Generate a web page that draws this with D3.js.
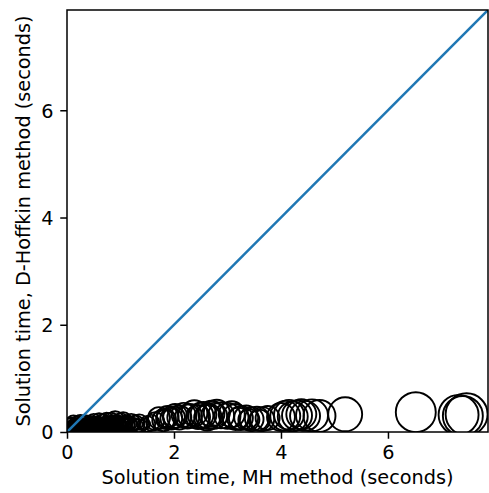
<!DOCTYPE html>
<html><head><meta charset="utf-8">
<script src="https://cdn.jsdelivr.net/npm/d3@7"></script>
<style>body{margin:0;background:#fff}svg{display:block}text{font-family:"DejaVu Sans",sans-serif;fill:#000}</style>
</head><body><div id="c"></div>
<script>
// MH method solution times (seconds)
const mhTimes = [0.02,0.04,0.06,0.08,0.10,0.12,0.14,0.16,0.18,0.20,0.23,0.25,0.28,0.30,0.33,0.36,0.38,0.41,0.44,0.47,0.50,0.53,0.56,0.60,0.63,0.66,0.70,0.74,0.78,0.82,0.86,0.90,0.95,1.00,1.05,1.12,1.20,1.28,1.35,
 0.03,0.05,0.07,0.09,0.11,0.13,0.15,0.17,0.19,0.21,0.22,0.24,0.26,0.27,0.29,0.31,0.32,0.34,0.35,0.37,0.39,0.40,0.42,0.43,0.45,0.46,0.48,0.49,0.51,0.52,0.54,0.55,0.57,0.58,0.59,0.61,0.62,0.64,0.65,0.67,0.68,0.69,0.71,0.72,0.73,0.75,0.76,0.77,0.79,0.80,0.81,0.83,0.84,0.85,0.87,0.88,0.89,0.91,0.92,0.93,0.96,0.98,1.02,1.04,1.08,1.10,1.15,1.18,1.23,1.25,1.31,1.40,1.45,
 1.50,1.58,1.65,1.72,1.80,1.88,1.95,2.02,2.10,2.18,2.30,2.38,2.45,2.55,2.62,2.70,2.75,2.80,2.88,3.00,3.08,3.15,3.25,3.35,3.45,3.55,3.65,3.75,
 1.85,2.00,2.25,2.50,2.65,3.20,3.40,3.60,
 4.00,4.08,4.15,4.22,4.30,4.38,4.45,4.58,4.72,5.20,6.52,7.32,7.40,7.47];
// D-Hoffkin method solution times (seconds)
const dhTimes = [0.10,0.14,0.08,0.16,0.12,0.18,0.09,0.15,0.11,0.17,0.13,0.19,0.10,0.16,0.12,0.18,0.14,0.10,0.17,0.13,0.19,0.11,0.16,0.20,0.13,0.18,0.15,0.21,0.12,0.19,0.16,0.22,0.14,0.18,0.20,0.15,0.17,0.14,0.16,
 0.06,0.11,0.13,0.07,0.15,0.10,0.12,0.08,0.14,0.09,0.16,0.11,0.07,0.13,0.15,0.09,0.12,0.14,0.08,0.10,0.13,0.16,0.09,0.12,0.15,0.08,0.11,0.14,0.10,0.17,0.09,0.13,0.12,0.15,0.08,0.11,0.16,0.10,0.14,0.12,0.09,0.15,0.11,0.17,0.10,0.13,0.16,0.09,0.12,0.14,0.11,0.18,0.10,0.13,0.15,0.12,0.17,0.11,0.14,0.19,0.13,0.16,0.12,0.17,0.14,0.18,0.13,0.16,0.12,0.15,0.14,0.13,0.15,
 0.15,0.17,0.20,0.26,0.22,0.28,0.25,0.30,0.27,0.32,0.30,0.35,0.28,0.32,0.27,0.34,0.30,0.36,0.31,0.30,0.33,0.28,0.26,0.27,0.24,0.25,0.24,0.26,
 0.24,0.27,0.29,0.31,0.29,0.25,0.23,0.22,
 0.28,0.30,0.32,0.29,0.31,0.33,0.30,0.31,0.30,0.33,0.37,0.32,0.30,0.33];
// marker sizes (area, pt^2)
const markerSizes = [52,75,33,75,52,101,52,75,52,101,75,101,52,101,75,101,75,52,101,75,132,75,101,132,101,132,101,132,101,168,132,168,132,168,168,132,168,168,168,
 20,33,40,28,45,33,52,30,45,40,60,45,30,52,60,40,52,60,33,45,52,75,40,52,60,33,45,60,45,75,40,52,60,75,40,52,75,45,60,52,40,75,52,75,45,60,75,40,52,60,52,90,45,60,75,52,90,52,60,101,60,75,60,90,75,101,75,90,60,75,60,52,60,
 132,132,168,250,250,250,250,298,298,298,298,350,298,350,350,350,350,350,350,350,350,350,298,298,298,298,298,298,
 200,250,300,330,330,250,230,230,
 405,466,466,466,466,466,466,530,530,598,828,828,828,913];
const xTicks = [0,2,4,6];
const yTicks = [0,2,4,6];
const axisMax = 7.87;

const W=489,H=493, L=67,R=488,T=10,B=432;
const FS="19.3px";
const svg=d3.select("#c").append("svg").attr("width",W).attr("height",H);
const x=d3.scaleLinear().domain([0,axisMax]).range([L,R]);
const y=d3.scaleLinear().domain([0,axisMax]).range([B,T]);
const r=d3.scaleSqrt().domain([0,1000]).range([0,Math.sqrt(1000)/2*100/72]);

svg.append("clipPath").attr("id","clip").append("rect").attr("x",L).attr("y",T).attr("width",R-L).attr("height",B-T);
const g=svg.append("g").attr("clip-path","url(#clip)");
g.selectAll("circle").data(mhTimes.map((v,i)=>({x:v,y:dhTimes[i],s:markerSizes[i]}))).join("circle")
 .attr("cx",d=>x(d.x)).attr("cy",d=>y(d.y)).attr("r",d=>r(d.s))
 .attr("fill","none").attr("stroke","#000").attr("stroke-width",1.9);
g.append("line").attr("x1",x(0)).attr("y1",y(0)).attr("x2",x(axisMax)).attr("y2",y(axisMax))
 .attr("stroke","#1f77b4").attr("stroke-width",2.5);

const xa=svg.append("g").attr("transform",`translate(0,${B})`).call(d3.axisBottom(x).tickValues(xTicks).tickSize(6.75).tickPadding(6.75).tickFormat(d3.format("d")));
const ya=svg.append("g").attr("transform",`translate(${L},0)`).call(d3.axisLeft(y).tickValues(yTicks).tickSize(6.75).tickPadding(6.75).tickFormat(d3.format("d")));
[xa,ya].forEach(a=>{a.select(".domain").remove();a.selectAll("line").attr("stroke","#000").attr("stroke-width",1.5);a.selectAll("text").style("font-size",FS).style("font-family","DejaVu Sans");});
xa.selectAll("text").attr("dy","0.71em");
ya.selectAll("text").attr("dy","0.36em");
svg.append("rect").attr("x",L).attr("y",T).attr("width",R-L).attr("height",B-T).attr("fill","none").attr("stroke","#000").attr("stroke-width",1.5);

svg.append("text").attr("x",(L+R)/2).attr("y",484).attr("text-anchor","middle").style("font-size",FS).text("Solution time, MH method (seconds)");
svg.append("text").attr("transform",`translate(30,${(T+B)/2}) rotate(-90)`).attr("text-anchor","middle").style("font-size",FS).text("Solution time, D-Hoffkin method (seconds)");
</script></body></html>
